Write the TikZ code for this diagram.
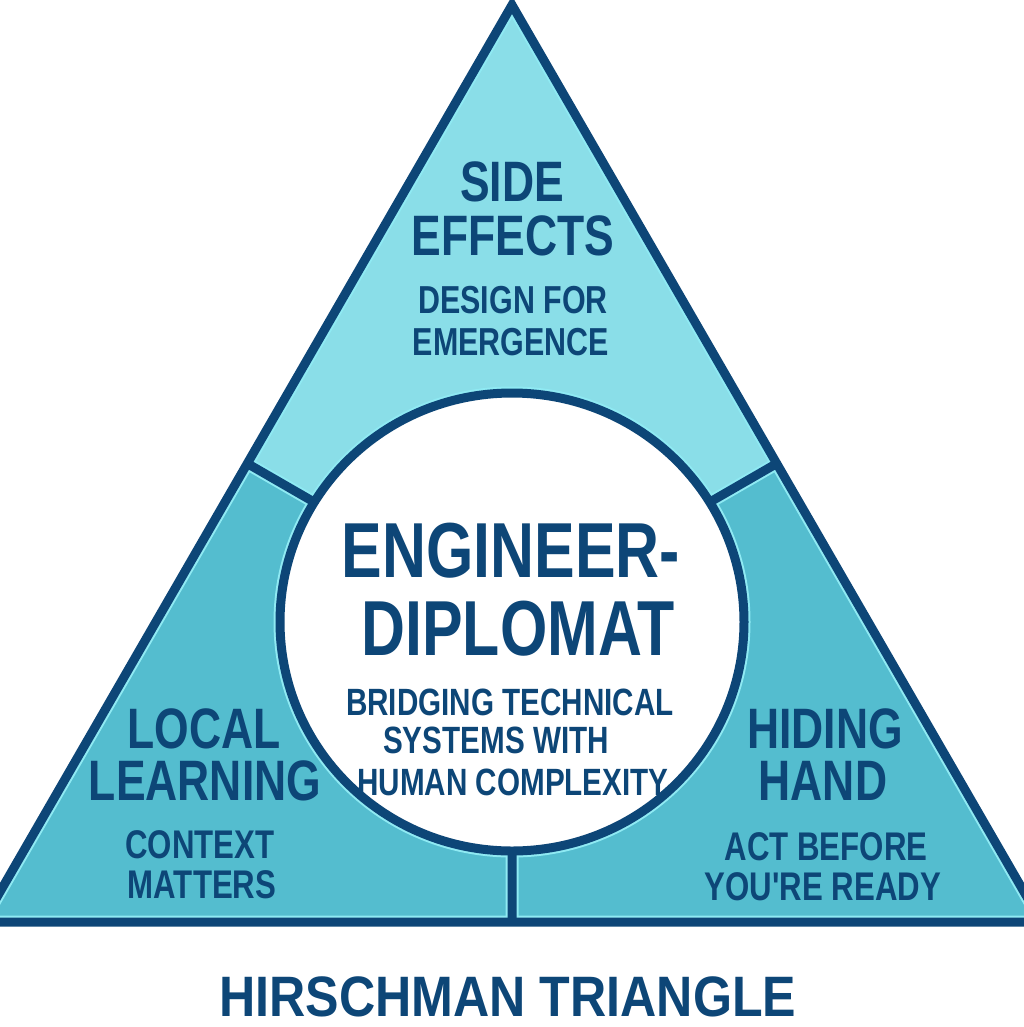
\documentclass[tikz,border=0pt]{standalone}
\usepackage{fontspec}
\newfontfamily\condfont{Liberation Sans}[FakeStretch=0.78]
\newfontfamily\titlefont{Liberation Sans}[FakeStretch=0.88]
\newcommand{\fsz}[1]{\fontsize{#1}{#1}\selectfont}
\definecolor{navy}{HTML}{0D4677}
\definecolor{topfill}{HTML}{8ADEE8}
\definecolor{lowfill}{HTML}{54BDCF}
\definecolor{glow}{HTML}{8FEAF3}
\tikzset{
  lbl/.style={text=navy, inner sep=0pt, anchor=base},
  headtxt/.style={lbl, font=\condfont\bfseries\fsz{57}},
  subtxt/.style={lbl, font=\condfont\bfseries\fsz{39}},
  subtxtb/.style={lbl, font=\condfont\bfseries\fsz{40}},
  coretxt/.style={lbl, font=\condfont\bfseries\fsz{78}},
  bodytxt/.style={lbl, font=\condfont\bfseries\fsz{38}},
  titletxt/.style={lbl, font=\titlefont\bfseries\fsz{57}},
  darkline/.style={draw=navy, line width=9pt},
  glowline/.style={draw=glow, line width=13pt},
  ring/.style={x radius=232pt, y radius=229pt}
}
\begin{document}
\begin{tikzpicture}[x=1pt,y=-1pt]
\useasboundingbox (0,0) rectangle (1024,1027);
\clip (0,0) rectangle (1024,1027);
\coordinate (A) at (512,5);
\coordinate (BL) at (-17.4,922);
\coordinate (BR) at (1041.4,922);
\coordinate (I) at (512,616.3);
\coordinate (L) at (247.3,463.5);
\coordinate (R) at (776.7,463.5);
\coordinate (B) at (512,922);
\coordinate (O) at (512,622);
% fills
\fill[lowfill] (A)--(BL)--(BR)--cycle;
\fill[topfill] (A)--(L)--(I)--(R)--cycle;
% light highlight along the dark lines
\begin{scope}[even odd rule]
  \clip (A)--(BL)--(BR)--cycle (O) ellipse [ring];
  \draw[glowline] (A)--(BL)--(BR)--cycle;
  \draw[glowline] (L)--(I) (R)--(I) (B)--(I);
  \draw[glowline] (O) ellipse [ring];
\end{scope}
% dividers
\draw[darkline] (L)--(I) (R)--(I) (B)--(I);
% circle
\fill[white] (O) ellipse [ring];
\draw[darkline] (O) ellipse [ring];
% triangle outline
\draw[darkline, line join=miter] (A)--(BL)--(BR)--cycle;
% texts
\node[headtxt] (se1) at (512,201) {SIDE};
\node[headtxt] (se2) at (513,255) {EFFECTS};
\node[subtxt] (se3) at (513,313) {DESIGN FOR};
\node[subtxt] (se4) at (511,355) {EMERGENCE};
\node[coretxt] (ed1) at (511,577) {ENGINEER-};
\node[coretxt] (ed2) at (518,655) {DIPLOMAT};
\node[bodytxt] (b1) at (510,715) {BRIDGING TECHNICAL};
\node[bodytxt] (b2) at (496,753) {SYSTEMS WITH};
\node[bodytxt] (b3) at (513,795) {HUMAN COMPLEXITY};
\node[headtxt] (ll1) at (204,748) {LOCAL};
\node[headtxt] (ll2) at (205,800) {LEARNING};
\node[subtxtb] (ll3) at (200,858) {CONTEXT};
\node[subtxtb] (ll4) at (202,898) {MATTERS};
\node[headtxt] (hh1) at (825,748) {HIDING};
\node[headtxt] (hh2) at (823,800) {HAND};
\node[subtxtb] (hh3) at (826,860) {ACT BEFORE};
\node[subtxtb] (hh4) at (823,900) {YOU'RE READY};
\node[titletxt] (ttl) at (508,1016) {HIRSCHMAN TRIANGLE};
\end{tikzpicture}
\end{document}
